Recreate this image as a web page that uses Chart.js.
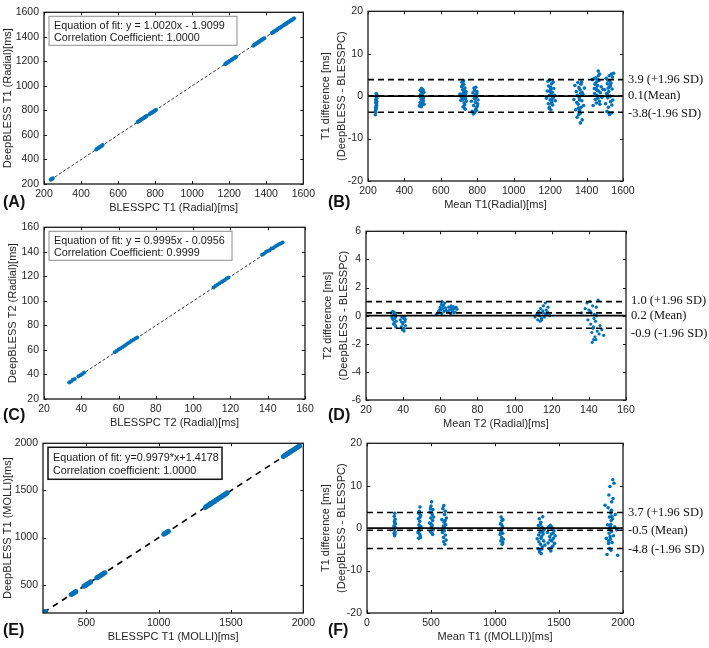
<!DOCTYPE html>
<html>
<head>
<meta charset="utf-8">
<script src="https://cdn.jsdelivr.net/npm/chart.js@4.4.0/dist/chart.umd.min.js"></script>
<style>
  body { margin: 0; background: #fff; width: 709px; height: 648px; position: relative; overflow: hidden; }
  .panel { position: absolute; }
  .tag { position: absolute; font: bold 16px/18px "Liberation Sans", Arial, sans-serif; color: #111; }
</style>
</head>
<body>
<div class="panel" id="pA"><canvas></canvas></div>
<div class="panel" id="pB"><canvas></canvas></div>
<div class="panel" id="pC"><canvas></canvas></div>
<div class="panel" id="pD"><canvas></canvas></div>
<div class="panel" id="pE"><canvas></canvas></div>
<div class="panel" id="pF"><canvas></canvas></div>
<div class="tag" style="left:3px;top:193px">(A)</div>
<div class="tag" style="left:328px;top:193px">(B)</div>
<div class="tag" style="left:3px;top:406px">(C)</div>
<div class="tag" style="left:328px;top:406px">(D)</div>
<div class="tag" style="left:3px;top:621px">(E)</div>
<div class="tag" style="left:328px;top:621px">(F)</div>
<script>
// --- (A) radial T1: BLESSPC vs DeepBLESS
const radialT1Blesspc = [236,240,244,248, 482,487,492,497,502,507,512,517, 705,710,715,720,725,730,735,740,745,750,755,
  770,775,780,785,790,795,800,805, 1178,1183,1188,1193,1198,1203,1208,1213,1218,1223,1228,1233,1238,
  1330,1335,1340,1345,1350,1355,1360,1365,1370,1375,1380,1385,1390, 1430,1435,1440,1445,1450,1455,1460,1465,1470,1475,1480,1485,
  1495,1500,1505,1510,1515,1520,1525,1530,1535,1540,1545,1550];
const radialT1Deep = [234,239,243,247, 481,488,491,498,501,508,511,518, 706,709,716,719,726,729,736,739,746,749,756,
  769,776,779,786,789,796,799,806, 1177,1184,1187,1194,1197,1204,1207,1214,1217,1224,1227,1234,1237,
  1328,1336,1338,1346,1348,1356,1358,1366,1368,1376,1378,1386,1389, 1431,1436,1441,1446,1451,1454,1461,1466,1471,1474,1481,1486,
  1496,1501,1506,1509,1516,1521,1524,1531,1536,1539,1546,1551];
const radialT1Fit = [1.0020, -1.9099];
const radialT1FitText = ['Equation of fit: y = 1.0020x - 1.9099', 'Correlation Coefficient: 1.0000'];

// --- (B) radial T1 Bland-Altman
const radialT1Mean = [240,242,243,244,245,246,247,248,241,244,246,249,243,245,247,242,244,246,248,245,
  482,486,488,490,492,494,496,498,500,502,504,506,508,489,493,497,501,505,495,499,503,487,491,
  705,710,714,716,718,720,722,724,726,728,730,732,734,736,738,740,712,719,725,731,737,721,727,733,715,729,
  768,772,776,780,782,784,786,788,790,792,794,796,798,800,804,778,785,791,797,802,789,795,
  1180,1184,1188,1190,1192,1194,1196,1198,1200,1202,1204,1206,1208,1210,1212,1214,1216,1218,1220,1224,1228,1195,1203,1211,1199,1207,
  1330,1336,1340,1344,1348,1350,1352,1354,1356,1358,1360,1362,1364,1366,1368,1370,1372,1374,1376,1380,1384,1388,1346,1355,1365,1375,1362,1369,1359,
  1432,1436,1440,1444,1446,1448,1450,1452,1454,1456,1458,1460,1462,1464,1466,1468,1470,1472,1476,1480,1484,1490,1449,1457,1465,1473,1443,1461,
  1500,1504,1508,1510,1512,1514,1516,1518,1520,1522,1524,1526,1528,1530,1532,1534,1536,1538,1540,1542,1544,1548,1515,1523,1531,1539,1527,1519];
const radialT1Diff = [-4.4,-3.8,-3.2,-2.9,-2.5,-2.1,-1.8,-1.2,-3.5,-0.8,-0.3,0.3,-1.5,0.6,-2.2,-2.7,-1.0,0.1,-0.5,-1.7,
  -2.3,-1.5,0.2,1.2,-0.8,1.8,-2.0,0.6,-1.1,1.5,-0.4,0.9,-1.9,-0.2,-2.5,0.3,-1.4,1.0,0.8,-0.6,-1.0,1.4,0.5,
  0.5,-1.0,2.2,3.3,-0.3,1.5,-2.5,0.8,2.8,-1.6,0.2,1.9,-3.1,-0.6,1.1,-1.2,-0.2,2.5,3.6,-2.0,0.6,-0.9,1.3,-0.5,0.4,-2.8,
  -1.2,-3.6,0.8,-2.2,1.9,-0.5,-3.9,0.4,-1.5,2.1,-2.8,-0.2,1.1,-2.4,-0.9,-4.2,1.4,-3.2,0.6,-1.8,-0.7,-3.4,
  -0.5,1.2,3.5,-1.8,2.4,0.1,-2.6,3.8,-0.9,1.6,-3.2,0.5,2.9,-1.3,0.9,-2.1,3.3,-0.3,1.8,0.2,-1.1,-2.9,2.1,-0.6,1.1,-1.7,
  -0.8,2.5,-3.2,1.1,-5.0,0.2,3.2,-1.9,-4.4,2.0,-0.4,-3.3,1.5,-6.3,0.7,-2.6,3.3,-1.1,-5.6,0.4,-2.2,1.9,-1.5,-2.8,-4.1,0.9,-0.9,2.8,-3.7,
  3.9,-2.2,4.1,0.6,2.8,-0.8,4.3,1.9,-1.6,3.4,0.2,2.5,-0.5,5.9,1.2,3.7,-1.2,5.2,0.8,2.2,-0.3,1.6,3.1,1.4,4.8,-1.9,1.8,4.0,
  1.5,-1.8,4.2,0.6,-3.6,2.9,-0.4,3.7,-2.6,1.1,4.8,-4.3,2.3,0.0,-1.3,3.1,5.2,-3.9,1.7,4.5,-0.9,5.4,0.3,-4.0,2.6,-2.1,3.6,1.9];
const radialT1Limits = [3.9, 0.1, -3.8];
const radialT1LimitText = ['3.9 (+1.96 SD)', '0.1(Mean)', '-3.8(-1.96 SD)'];

// --- (C) radial T2: BLESSPC vs DeepBLESS
const radialT2Blesspc = [33.5,34.5,35.5,36.5, 38.5,39.5,40.5,41.5, 58,59,60,61,62,63, 64,65,66,67,68,69,70,
  111,112,113,114,115,116,117,118,119, 137,138,139,140,141,142,143,144,145,146,147,148];
const radialT2Deep = [33.4,34.3,35.6,36.4, 38.6,39.3,40.4,41.6, 58.2,59.1,60.3,61.2,62.1,63.2, 64.3,65.4,66.3,67.5,68.4,69.3,70.2,
  110.9,112.1,113.1,114.2,115.1,116.2,117.1,118.3,119.1, 137.6,138.4,139.8,140.6,141.2,142.8,143.1,144.3,145.2,146.1,146.8,147.7];
const radialT2Fit = [0.9995, -0.0956];
const radialT2FitText = ['Equation of fit: y = 0.9995x - 0.0956', 'Correlation Coefficient: 0.9999'];

// --- (D) radial T2 Bland-Altman
const radialT2Mean = [33.5,34,34.3,34.6,35,35.2,35.5,35.8,36,36.3,34.8,35.4,35.9,34.2,36.1,35.1,
  38.5,39,39.3,39.6,40,40.3,40.6,41,41.3,39.8,40.5,40.8,39.2,41.1,
  58,59,59.5,60,60.3,60.6,61,61.3,61.6,62,62.4,62.8,63,60.8,61.8,59.8,
  64,64.5,65,65.5,66,66.5,67,67.5,68,68.5,69,65.8,67.2,66.3,
  111,112,112.5,113,113.5,114,114.5,115,115.5,116,116.5,117,117.5,118,119,113.8,115.2,116.3,114.6,112.8,117.8,
  136,138,139,139.5,140,140.5,141,141.3,141.6,142,142.3,142.6,143,143.3,143.6,144,144.5,145,145.5,146,147,148,141.8,142.8,143.8,140.8,144.2,142.5];
const radialT2Diff = [0.2,-0.1,0.3,-0.3,0.1,-0.5,-0.2,-0.7,0.0,-0.4,-0.6,0.2,-0.1,-0.2,-0.8,0.25,
  -0.3,-0.8,-0.1,-1.0,-0.5,-0.2,-0.9,-0.4,-0.7,-0.6,-1.1,-0.05,-0.45,-0.25,
  0.1,0.3,0.2,0.6,0.4,0.8,1.0,0.5,0.7,0.3,0.9,0.55,0.4,0.15,0.75,0.45,
  0.3,0.6,0.4,0.15,0.55,0.35,0.65,0.5,0.25,0.6,0.45,0.7,0.2,0.4,
  -0.1,0.1,-0.3,0.3,0.0,0.5,-0.2,0.2,0.7,-0.1,0.9,0.4,0.1,0.6,0.0,-0.4,0.35,0.15,-0.3,0.05,0.25,
  0.2,0.5,0.9,-0.3,0.4,1.0,-0.6,0.2,-1.2,0.7,-0.9,-1.7,0.1,-1.5,-0.4,0.6,-1.1,1.1,-1.3,-0.7,-1.0,-1.4,-1.9,-0.2,-1.7,0.3,0.0,-0.8];
const radialT2Limits = [1.0, 0.2, -0.9];
const radialT2LimitText = ['1.0 (+1.96 SD)', '0.2 (Mean)', '-0.9 (-1.96 SD)'];

// --- (E) MOLLI T1: BLESSPC vs DeepBLESS
const molliT1Blesspc = [204,211,218, 395,403,411,419,427, 482,490,498,506,514,522,530, 572,580,588,596,604,612,620,628,
  1035,1043,1051,1059,1067, 1322,1330,1338,1346,1354,1362,1370,1378,1386,1394,1402,1410,1418,1426,1434,1442,1450,1458,1466,1474,
  1862,1870,1878,1886,1894,1902,1910,1918,1926,1934,1942,1950,1958,1966,1974];
const molliT1Deep = [203,212,217, 396,402,412,418,428, 483,489,499,505,515,521,531, 573,579,589,595,605,611,621,627,
  1034,1044,1050,1060,1066, 1320,1331,1336,1347,1352,1363,1368,1379,1384,1395,1400,1411,1416,1427,1432,1443,1448,1459,1464,1475,
  1860,1871,1876,1887,1892,1903,1908,1919,1924,1935,1940,1951,1956,1967,1972];
const molliT1Fit = [0.9979, 1.4178];
const molliT1FitText = ['Equation of fit: y=0.9979*x+1.4178', 'Correlation coefficient: 1.0000'];

// --- (F) MOLLI T1 Bland-Altman
const molliT1Mean = [210,212,213,214,215,216,217,218,219,220,222,214.5,216.5,218.5,
  398,402,404,406,408,410,412,414,416,418,420,405,411,415,409,417,
  488,492,495,498,500,503,505,508,510,512,515,518,520,500.5,506,513,496,509,
  585,590,593,596,598,600,602,604,606,608,610,612,615,618,620,599,605,595,611,
  1040,1043,1046,1048,1050,1052,1054,1056,1058,1060,1062,1065,1049,1055,1061,1045,
  1330,1335,1340,1343,1346,1349,1352,1355,1358,1361,1364,1367,1370,1373,1376,1380,1385,1390,1348,1359,1366,1374,1341,1355,
  1410,1415,1420,1424,1428,1432,1436,1440,1444,1448,1452,1456,1460,1465,1470,1430,1442,1454,1438,
  1860,1870,1875,1880,1884,1888,1890,1892,1894,1896,1898,1900,1902,1904,1906,1908,1910,1912,1915,1918,
  1920,1925,1930,1940,1950,1958,1895,1905,1887,1913,1922,1935,1899,1910];
const molliT1Diff = [0.5,-1.2,2.8,-0.4,1.6,-1.8,3.5,0.2,-0.9,2.1,1.0,-0.2,1.2,-1.4,
  -1.0,2.2,-2.4,0.8,4.0,-0.6,1.6,5.0,-1.8,3.0,0.4,3.5,-1.4,2.6,0.1,-2.2,
  1.2,3.8,-0.8,2.4,5.2,0.3,6.2,-1.2,3.1,1.8,4.4,-0.4,2.6,1.0,3.6,-1.5,4.6,0.6,
  2.0,-1.0,4.6,0.5,-2.2,5.3,1.4,-0.6,3.2,-3.8,1.8,-1.6,0.8,-2.8,2.4,-3.2,0.2,-0.2,4.0,
  -1.5,1.0,-3.0,2.6,-0.5,-2.2,1.8,-3.8,0.4,-1.2,2.0,-2.6,0.9,-0.1,-3.4,-1.0,
  -2.5,-4.8,0.6,-3.2,2.2,-5.2,-1.0,-3.8,1.4,-6.0,-2.0,0.2,-4.4,2.7,-1.4,-3.0,-0.3,-4.0,-5.6,-2.4,-4.9,-0.8,-1.6,0.9,
  -1.0,-3.5,0.3,-4.8,-2.0,0.7,-5.4,-1.4,-3.0,0.0,-4.2,-2.4,-0.6,-3.6,-1.8,-2.8,-4.6,-1.2,0.4,
  5.4,-2.4,-6.2,0.8,4.8,-3.6,7.8,-1.2,2.6,-4.8,9.8,0.4,-2.6,3.6,-5.2,1.8,-0.8,6.2,-3.4,2.2,
  11.4,-1.8,10.6,3.2,-0.4,-6.4,-0.2,0.9,-3.0,2.8,7.0,0.3,-2.0,4.2];
const molliT1Limits = [3.7, -0.5, -4.8];
const molliT1LimitText = ['3.7 (+1.96 SD)', '-0.5 (Mean)', '-4.8 (-1.96 SD)'];

// axis ranges and tick labels
const radialT1Ticks = [200, 400, 600, 800, 1000, 1200, 1400, 1600];
const radialT2Ticks = [20, 40, 60, 80, 100, 120, 140, 160];
const molliT1Ticks = [500, 1000, 1500, 2000];
const molliT1MeanTicks = [0, 500, 1000, 1500, 2000];
const t1DiffTicks = [-20, -10, 0, 10, 20];
const t2DiffTicks = [-6, -4, -2, 0, 2, 4, 6];
const molliT1Range = [200, 2000];

Chart.defaults.font.family = '"Liberation Sans", Arial, sans-serif';
Chart.defaults.color = '#262626';
const blue = 'rgb(0,114,189)';

function pairs(xs, ys) { return xs.map((v, i) => ({x: v, y: ys[i]})); }
function hLine(range, v) { return [{x: range[0], y: v}, {x: range[1], y: v}]; }
function fitLine(xs, fit) {
  const lo = Math.min(...xs), hi = Math.max(...xs);
  return [{x: lo, y: fit[0] * lo + fit[1]}, {x: hi, y: fit[0] * hi + fit[1]}];
}

// MATLAB style box with inward ticks on all four sides
const axesBox = {
  id: 'axesBox',
  afterDatasetsDraw(chart) {
    const {ctx, chartArea: a, scales: {x, y}} = chart;
    ctx.save();
    ctx.strokeStyle = '#1a1a1a';
    ctx.lineWidth = 1;
    ctx.beginPath();
    x.ticks.forEach(t => {
      const p = Math.round(x.getPixelForValue(t.value)) + 0.5;
      ctx.moveTo(p, a.bottom); ctx.lineTo(p, a.bottom - 3);
      ctx.moveTo(p, a.top); ctx.lineTo(p, a.top + 3);
    });
    y.ticks.forEach(t => {
      const p = Math.round(y.getPixelForValue(t.value)) + 0.5;
      ctx.moveTo(a.left, p); ctx.lineTo(a.left + 3, p);
      ctx.moveTo(a.right, p); ctx.lineTo(a.right - 3, p);
    });
    ctx.stroke();
    ctx.lineWidth = 1.3;
    ctx.strokeRect(a.left, a.top, a.right - a.left, a.bottom - a.top);
    ctx.restore();
  }
};

function fitBox(lines, w, h, border, bw) {
  return {
    id: 'fitBox',
    afterDraw(chart) {
      const {ctx, chartArea: a} = chart;
      ctx.save();
      ctx.fillStyle = '#fff';
      ctx.fillRect(a.left + 5, a.top + 4, w, h);
      ctx.strokeStyle = border;
      ctx.lineWidth = bw;
      ctx.strokeRect(a.left + 5, a.top + 4, w, h);
      ctx.fillStyle = '#1a1a1a';
      ctx.font = '10.8px "Liberation Sans", Arial, sans-serif';
      ctx.textBaseline = 'middle';
      ctx.fillText(lines[0], a.left + 10, a.top + 4 + h * 0.33);
      ctx.fillText(lines[1], a.left + 10, a.top + 4 + h * 0.74);
      ctx.restore();
    }
  };
}

function limitLabels(values, texts, shifts) {
  return {
    id: 'limitLabels',
    afterDraw(chart) {
      const {ctx, chartArea: a, scales: {y}} = chart;
      ctx.save();
      ctx.font = '12.5px "Liberation Serif", "Times New Roman", serif';
      ctx.fillStyle = '#111';
      ctx.textBaseline = 'middle';
      values.forEach((v, i) => ctx.fillText(texts[i], a.right + 5, y.getPixelForValue(v) + shifts[i]));
      ctx.restore();
    }
  };
}

function axis(range, ticks, title, fit) {
  return {
    type: 'linear', min: range[0], max: range[1],
    afterBuildTicks: s => { s.ticks = ticks.map(v => ({value: v})); },
    afterFit: fit,
    grid: {display: false, drawTicks: false, tickLength: 0}, border: {display: false},
    ticks: {autoSkip: false, maxRotation: 0, font: {size: 10.5}, callback: v => String(v)},
    title: {display: true, text: title, font: {size: 11}, padding: 0}
  };
}

function makePanel(id, box, p, datasets, plugins) {
  const wrap = document.getElementById(id);
  wrap.style.left = box.left + 'px';
  wrap.style.top = box.top + 'px';
  const canvas = wrap.querySelector('canvas');
  canvas.width = box.w; canvas.height = box.h;
  canvas.style.width = box.w + 'px'; canvas.style.height = box.h + 'px';
  const x = axis(p.xRange, p.xTicks, p.xTitle, s => { s.height = 31; });
  x.ticks.padding = 4;
  const y = axis(p.yRange, p.yTicks, p.yTitle, s => { s.width = box.yWidth; });
  y.ticks.padding = 5;
  y.title = {display: true, text: p.yTitle, font: {size: 11, lineHeight: 16 / 11}, padding: {top: box.titlePad, bottom: 0}};
  new Chart(canvas, {
    type: 'scatter',
    data: {datasets},
    options: {
      responsive: false, animation: false, devicePixelRatio: 1,
      layout: {padding: {top: 8, right: box.padRight, left: 0, bottom: 0}},
      plugins: {legend: {display: false}, tooltip: {enabled: false}},
      scales: {x, y}
    },
    plugins: [axesBox].concat(plugins)
  });
}

function scatterSets(xs, ys, fit, lineStyle, radius) {
  return [
    {data: pairs(xs, ys), pointRadius: radius, pointBackgroundColor: blue, pointBorderWidth: 0},
    Object.assign({data: fitLine(xs, fit), showLine: true, pointRadius: 0, borderColor: '#333'}, lineStyle)
  ];
}

function blandSets(range, means, diffs, limits, radius) {
  const sets = [{data: hLine(range, 0), showLine: true, pointRadius: 0, borderColor: '#000', borderWidth: 1.7}];
  limits.forEach(v => sets.push({data: hLine(range, v), showLine: true, pointRadius: 0,
    borderColor: '#000', borderWidth: 1.6, borderDash: [6, 4]}));
  sets.push({data: pairs(means, diffs), pointRadius: radius, pointBackgroundColor: blue, pointBorderWidth: 0});
  return sets;
}

const t1Range = [radialT1Ticks[0], radialT1Ticks[radialT1Ticks.length - 1]];
const t2Range = [radialT2Ticks[0], radialT2Ticks[radialT2Ticks.length - 1]];
const fRange = [molliT1MeanTicks[0], molliT1MeanTicks[molliT1MeanTicks.length - 1]];

makePanel('pA', {left: 0, top: 1, w: 319, h: 214, yWidth: 44, padRight: 14, titlePad: 0},
  {xRange: t1Range, yRange: t1Range, xTicks: radialT1Ticks, yTicks: radialT1Ticks,
   xTitle: 'BLESSPC T1 (Radial)[ms]', yTitle: 'DeepBLESS T1 (Radial)[ms]'},
  scatterSets(radialT1Blesspc, radialT1Deep, radialT1Fit, {borderWidth: 1, borderDash: [3, 2]}, 2),
  [fitBox(radialT1FitText, 188, 29, '#8c8c8c', 1)]);

makePanel('pB', {left: 318, top: 0, w: 391, h: 212, yWidth: 50, padRight: 86, titlePad: 0},
  {xRange: t1Range, yRange: [-20, 20], xTicks: radialT1Ticks, yTicks: t1DiffTicks,
   xTitle: 'Mean T1(Radial)[ms]', yTitle: ['T1 difference [ms]', '(DeepBLESS - BLESSPC)']},
  blandSets(t1Range, radialT1Mean, radialT1Diff, radialT1Limits, 1.8),
  [limitLabels(radialT1Limits, radialT1LimitText, [0, 0, 1])]);

makePanel('pC', {left: 0, top: 216, w: 319, h: 214, yWidth: 44, padRight: 14, titlePad: 5},
  {xRange: t2Range, yRange: t2Range, xTicks: radialT2Ticks, yTicks: radialT2Ticks,
   xTitle: 'BLESSPC T2 (Radial)[ms]', yTitle: 'DeepBLESS T2 (Radial)[ms]'},
  scatterSets(radialT2Blesspc, radialT2Deep, radialT2Fit, {borderWidth: 1, borderDash: [3, 2]}, 2),
  [fitBox(radialT2FitText, 183, 29, '#8c8c8c', 1)]);

makePanel('pD', {left: 318, top: 220, w: 391, h: 211, yWidth: 48, padRight: 83, titlePad: 2},
  {xRange: t2Range, yRange: [-6, 6], xTicks: radialT2Ticks, yTicks: t2DiffTicks,
   xTitle: 'Mean T2 (Radial)[ms]', yTitle: ['T2 difference [ms]', '(DeepBLESS - BLESSPC)']},
  blandSets(t2Range, radialT2Mean, radialT2Diff, radialT2Limits, 1.6),
  [limitLabels(radialT2Limits, radialT2LimitText, [-1, 3, 5])]);

makePanel('pE', {left: 0, top: 432, w: 319, h: 212, yWidth: 43, padRight: 14, titlePad: 0},
  {xRange: molliT1Range, yRange: molliT1Range, xTicks: molliT1Ticks, yTicks: molliT1Ticks,
   xTitle: 'BLESSPC T1 (MOLLI)[ms]', yTitle: 'DeepBLESS T1 (MOLLI)[ms]'},
  scatterSets(molliT1Blesspc, molliT1Deep, molliT1Fit, {borderWidth: 1.6, borderDash: [6, 5], borderColor: '#000'}, 2.5),
  [fitBox(molliT1FitText, 174, 32, '#111', 1.5)]);

makePanel('pF', {left: 318, top: 432, w: 391, h: 212, yWidth: 49, padRight: 86, titlePad: 0},
  {xRange: fRange, yRange: [-20, 20], xTicks: molliT1MeanTicks, yTicks: t1DiffTicks,
   xTitle: 'Mean T1 ((MOLLI))[ms]', yTitle: ['T1 difference [ms]', '(DeepBLESS - BLESSPC)']},
  blandSets(fRange, molliT1Mean, molliT1Diff, molliT1Limits, 1.8),
  [limitLabels(molliT1Limits, molliT1LimitText, [0, 0, 1])]);
</script>
</body>
</html>
